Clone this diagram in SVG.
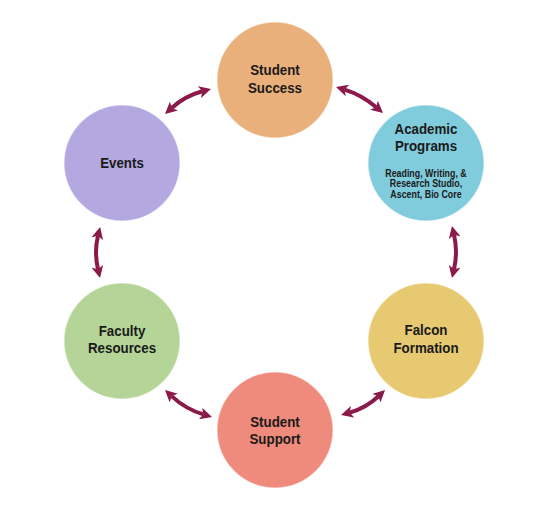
<svg xmlns="http://www.w3.org/2000/svg" width="550" height="506" viewBox="0 0 550 506">
<style>
.c{stroke:#ffffff;stroke-opacity:0.45;stroke-width:1.5}
.t{font-family:"Liberation Sans",Arial,sans-serif;font-weight:bold;font-size:15.5px;fill:#1a1a1a;text-anchor:middle}
.s{font-size:10.3px}
.a{fill:none;stroke:#8B1A4A;stroke-width:4;marker-start:url(#ah);marker-end:url(#ah)}
</style>
<defs>
<marker id="ah" viewBox="0 0 12 12" markerWidth="12" markerHeight="12" markerUnits="userSpaceOnUse" refX="3" refY="6" orient="auto-start-reverse">
<path d="M0,0 L12,6 L0,12 L3,6 z" fill="#8B1A4A"/>
</marker>
</defs>
<rect width="550" height="506" fill="#ffffff"/>
<g id="student-success">
<circle class="c" cx="275" cy="80" r="58" fill="#E9B07B"/>
<g transform="translate(275 0) scale(0.86 1)">
<text class="t" x="0" y="75">Student</text>
<text class="t" x="0" y="93">Success</text>
</g>
</g>
<g id="academic-programs">
<circle class="c" cx="426" cy="163" r="58" fill="#80CCDC"/>
<g transform="translate(426 0) scale(0.86 1)">
<text class="t" x="0" y="134">Academic</text>
<text class="t" x="0" y="151">Programs</text>
<text class="t s" x="0" y="177">Reading, Writing, &amp;</text>
<text class="t s" x="0" y="187.5">Research Studio,</text>
<text class="t s" x="0" y="198">Ascent, Bio Core</text>
</g>
</g>
<g id="falcon-formation">
<circle class="c" cx="426" cy="341" r="58" fill="#E6C971"/>
<g transform="translate(426 0) scale(0.86 1)">
<text class="t" x="0" y="335">Falcon</text>
<text class="t" x="0" y="353">Formation</text>
</g>
</g>
<g id="student-support">
<circle class="c" cx="275" cy="430" r="58" fill="#EE8B7C"/>
<g transform="translate(275 0) scale(0.86 1)">
<text class="t" x="0" y="427">Student</text>
<text class="t" x="0" y="444">Support</text>
</g>
</g>
<g id="faculty-resources">
<circle class="c" cx="122" cy="341" r="58" fill="#B5D497"/>
<g transform="translate(122 0) scale(0.86 1)">
<text class="t" x="0" y="336">Faculty</text>
<text class="t" x="0" y="353">Resources</text>
</g>
</g>
<g id="events">
<circle class="c" cx="122" cy="163" r="58" fill="#B4A8E1"/>
<g transform="translate(122 0) scale(0.86 1)">
<text class="t" x="0" y="168">Events</text>
</g>
</g>
<g id="connectors">
<path class="a" d="M171.7,108 Q185,96 202.3,91.3"/>
<path class="a" d="M344.6,89.6 Q362,95 376.2,107.2"/>
<path class="a" d="M454,234.8 Q458,252 454,269.2"/>
<path class="a" d="M349.7,412.6 Q366,408 378.5,396.2"/>
<path class="a" d="M171.6,396.1 Q185.5,409 203.4,414.4"/>
<path class="a" d="M98,235.8 Q94,252 98,269.2"/>
</g>
</svg>
